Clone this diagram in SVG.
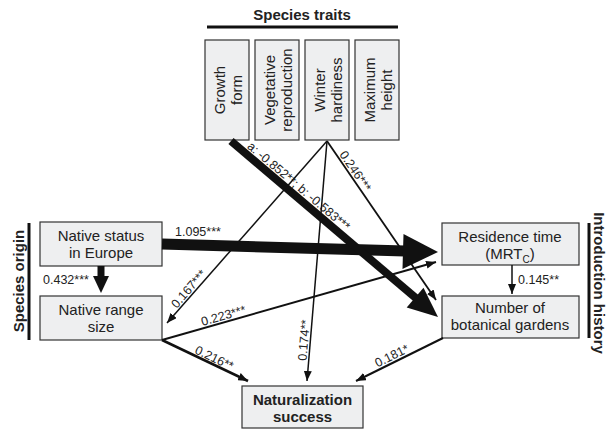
<svg xmlns="http://www.w3.org/2000/svg" width="607" height="432" viewBox="0 0 607 432">
<defs>
<style>
.box{fill:#eeeff0;stroke:#333;stroke-width:1.2}
.t{font-family:"Liberation Sans",Arial,sans-serif;font-size:15px;fill:#222;text-anchor:middle}
.b{font-weight:bold}
.lab{font-family:"Liberation Sans",Arial,sans-serif;font-size:12.5px;fill:#222}
.ln{stroke:#111;fill:none}
.hd{fill:#111}
</style>
<marker id="ah" markerUnits="userSpaceOnUse" markerWidth="10" markerHeight="8" refX="10" refY="4" orient="auto">
<path d="M0,0 L10,4 L0,8 z" fill="#111"/>
</marker>
</defs>
<rect width="607" height="432" fill="#fff"/>

<g id="group-traits">
<text class="t b" x="302" y="20">Species traits</text>
<line x1="207" y1="27" x2="398" y2="27" stroke="#111" stroke-width="3"/>
</g>
<g id="node-growth">
<rect class="box" x="205" y="40" width="44" height="100"/>
<text class="t" transform="translate(225,90) rotate(-90)" x="0" y="0">Growth</text>
<text class="t" transform="translate(242,90) rotate(-90)" x="0" y="0">form</text>
</g>
<g id="node-vegetative">
<rect class="box" x="255" y="40" width="44" height="100"/>
<text class="t" transform="translate(275,90) rotate(-90)" x="0" y="0">Vegetative</text>
<text class="t" transform="translate(292,90) rotate(-90)" x="0" y="0">reproduction</text>
</g>
<g id="node-winter">
<rect class="box" x="305" y="40" width="44" height="100"/>
<text class="t" transform="translate(325,90) rotate(-90)" x="0" y="0">Winter</text>
<text class="t" transform="translate(342,90) rotate(-90)" x="0" y="0">hardiness</text>
</g>
<g id="node-maxheight">
<rect class="box" x="355" y="40" width="44" height="100"/>
<text class="t" transform="translate(375,90) rotate(-90)" x="0" y="0">Maximum</text>
<text class="t" transform="translate(392,90) rotate(-90)" x="0" y="0">height</text>
</g>

<g id="group-origin">
<text class="t b" transform="translate(24,281) rotate(-90)">Species origin</text>
<line x1="29" y1="223" x2="29" y2="340" stroke="#111" stroke-width="3"/>
</g>
<g id="node-native-status">
<rect class="box" x="40" y="222" width="122" height="44"/>
<text class="t" x="101" y="241">Native status</text>
<text class="t" x="101" y="258">in Europe</text>
</g>
<g id="node-native-range">
<rect class="box" x="40" y="296" width="122" height="44"/>
<text class="t" x="101" y="315">Native range</text>
<text class="t" x="101" y="332">size</text>
</g>

<g id="group-introduction">
<text class="t b" transform="translate(594,283) rotate(90)">Introduction history</text>
<line x1="589" y1="223" x2="589" y2="338" stroke="#111" stroke-width="3"/>
</g>
<g id="node-residence">
<rect class="box" x="442" y="223" width="137" height="42"/>
<text class="t" x="510" y="242">Residence time</text>
<text class="t" x="510" y="259">(MRT<tspan font-size="10" dy="4">C</tspan><tspan dy="-4">)</tspan></text>
</g>
<g id="node-gardens">
<rect class="box" x="442" y="296" width="137" height="42"/>
<text class="t" x="510" y="313">Number of</text>
<text class="t" x="510" y="330">botanical gardens</text>
</g>
<g id="node-naturalization">
<rect class="box" x="242" y="386" width="121" height="42"/>
<text class="t b" x="302.5" y="405">Naturalization</text>
<text class="t b" x="302.5" y="422">success</text>
</g>

<g id="connectors">
<line class="ln" x1="327" y1="141" x2="167" y2="323" stroke-width="1.5" marker-end="url(#ah)"/>
<line class="ln" x1="327" y1="141" x2="307" y2="381" stroke-width="1.5" marker-end="url(#ah)"/>
<line class="ln" x1="327" y1="141" x2="436" y2="300" stroke-width="1.8" marker-end="url(#ah)"/>
<line class="ln" x1="162" y1="340" x2="436" y2="262" stroke-width="2" marker-end="url(#ah)"/>
<line class="ln" x1="162" y1="340" x2="248" y2="381" stroke-width="2.5" marker-end="url(#ah)"/>
<line class="ln" x1="443" y1="338" x2="356" y2="381" stroke-width="2" marker-end="url(#ah)"/>
<line class="ln" x1="512" y1="265" x2="512" y2="294" stroke-width="1.5" marker-end="url(#ah)"/>
<line class="ln" x1="101" y1="266" x2="101" y2="278" stroke-width="7"/>
<polygon class="hd" points="93,276 109,276 101,293"/>
<line class="ln" x1="162" y1="244" x2="405" y2="251" stroke-width="11"/>
<polygon class="hd" points="403.5,234 438,252 402.5,269"/>
<line class="ln" x1="231" y1="141" x2="417" y2="299" stroke-width="8"/>
<polygon class="hd" points="406.7,307.5 438,317 423.5,287.7"/>

<text class="lab" x="175" y="236">1.095***</text>
<text class="lab" x="43" y="284">0.432***</text>
<text class="lab" x="518" y="284">0.145**</text>
<text class="lab" transform="translate(246.5,147.5) rotate(40.2)" font-size="13">a: -0.852**; b: -0.583***</text>
<text class="lab" transform="translate(339,154.5) rotate(55.8)">0.246***</text>
<text class="lab" transform="translate(176.7,308.9) rotate(-48.7)">0.167***</text>
<text class="lab" transform="translate(306.5,361) rotate(-85.2)">0.174**</text>
<text class="lab" transform="translate(202.5,326) rotate(-15.9)">0.223***</text>
<text class="lab" transform="translate(194,353) rotate(25.5)">0.216**</text>
<text class="lab" transform="translate(377.5,367.5) rotate(-26.3)">0.181*</text>
</g>
</svg>
